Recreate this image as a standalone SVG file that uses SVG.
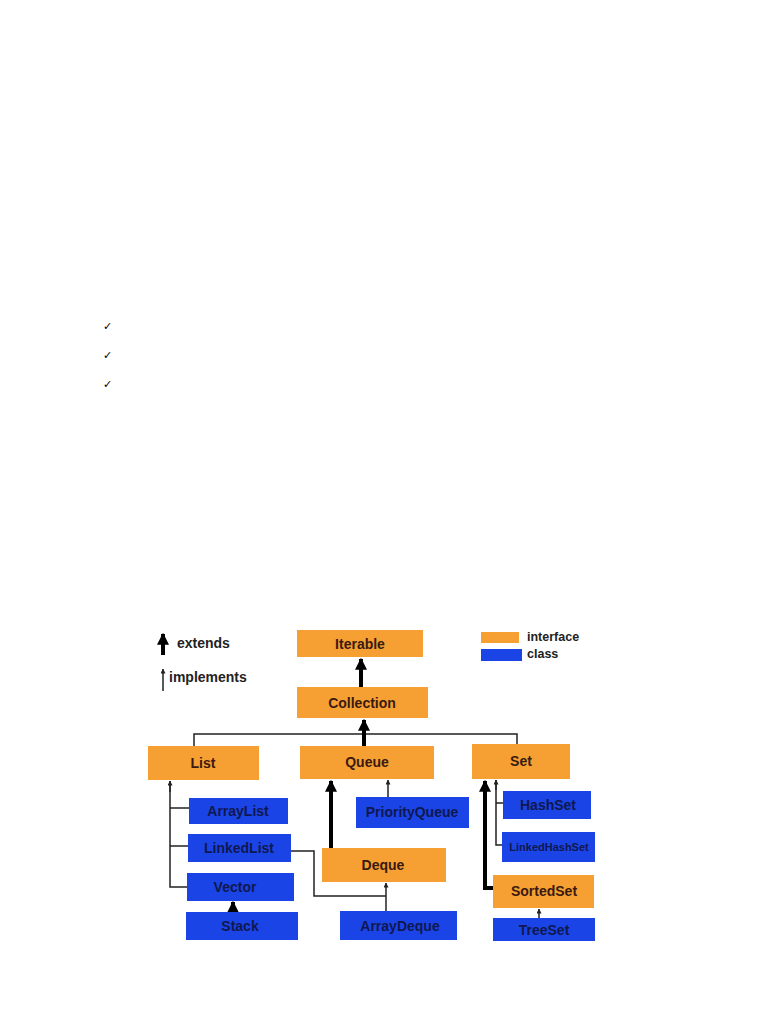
<svg xmlns="http://www.w3.org/2000/svg" width="768" height="1024" viewBox="0 0 768 1024">
<style>
.i{fill:#f6a033}
.c{fill:#1a44e6}
.ti{font-family:"Liberation Sans",Arial,sans-serif;font-weight:bold;font-size:14px;fill:#3a1a10;text-anchor:middle}
.tc{font-family:"Liberation Sans",Arial,sans-serif;font-weight:bold;font-size:14px;fill:#101850;text-anchor:middle}
.lg{font-family:"Liberation Sans",Arial,sans-serif;font-weight:bold;font-size:14px;fill:#222}
.thin{fill:none;stroke:#222;stroke-width:1.5}
.thick{fill:none;stroke:#000;stroke-width:4}
.chk{font-family:"DejaVu Sans",sans-serif;font-size:11px;fill:#000}
</style>
<defs>
<marker id="ah" viewBox="0 0 10 10" refX="9" refY="5" markerWidth="3" markerHeight="3" orient="auto"><path d="M0,0 L10,5 L0,10 z" fill="#000"/></marker>
<marker id="at" viewBox="0 0 10 10" refX="9" refY="5" markerWidth="5" markerHeight="5" markerUnits="userSpaceOnUse" orient="auto"><path d="M0,0 L10,5 L0,10 z" fill="#222"/></marker>
</defs>
<rect width="768" height="1024" fill="#fff"/>
<text class="chk" x="103" y="330">✓</text>
<text class="chk" x="103" y="359">✓</text>
<text class="chk" x="103" y="388">✓</text>

<g id="legend">
<line class="thick" x1="163" y1="655" x2="163" y2="634" marker-end="url(#ah)"/>
<text class="lg" x="177" y="648">extends</text>
<line class="thin" x1="163" y1="691" x2="163" y2="669" marker-end="url(#at)"/>
<text class="lg" x="169" y="682">implements</text>
<rect class="i" x="481" y="632" width="38" height="11"/>
<text class="lg" x="527" y="641" style="font-size:12.5px">interface</text>
<rect class="c" x="481" y="649" width="41" height="12"/>
<text class="lg" x="527" y="658" style="font-size:12.5px">class</text>
</g>

<g id="connectors">
<line class="thick" x1="361" y1="687" x2="361" y2="659" marker-end="url(#ah)"/>
<polyline class="thin" points="194,746 194,734 517,734 517,745"/>
<line class="thick" x1="364" y1="746" x2="364" y2="720" marker-end="url(#ah)"/>
<polyline class="thin" points="170,781 170,887 187,887"/>
<line class="thin" x1="170" y1="808" x2="189" y2="808"/>
<line class="thin" x1="170" y1="846" x2="188" y2="846"/>
<line class="thin" x1="170" y1="792" x2="170" y2="781" marker-end="url(#at)"/>
<line class="thick" x1="233" y1="912" x2="233" y2="902" marker-end="url(#ah)"/>
<line class="thin" x1="388" y1="797" x2="388" y2="780" marker-end="url(#at)"/>
<line class="thick" x1="331" y1="848" x2="331" y2="781" marker-end="url(#ah)"/>
<line class="thin" x1="386" y1="911" x2="386" y2="883" marker-end="url(#at)"/>
<polyline class="thin" points="291,851 314,851 314,896 386,896"/>
<polyline class="thin" points="496,780 496,845 502,845"/>
<line class="thin" x1="496" y1="790" x2="496" y2="780" marker-end="url(#at)"/>
<line class="thin" x1="496" y1="803" x2="503" y2="803"/>
<polyline class="thick" points="493,888 485,888 485,781" marker-end="url(#ah)"/>
<line class="thin" x1="539" y1="918" x2="539" y2="909" marker-end="url(#at)"/>
</g>

<g id="Iterable"><rect class="i" x="297" y="630" width="126" height="27"/><text class="ti" x="360" y="649">Iterable</text></g>
<g id="Collection"><rect class="i" x="297" y="687" width="131" height="31"/><text class="ti" x="362" y="708">Collection</text></g>
<g id="List"><rect class="i" x="148" y="746" width="111" height="34"/><text class="ti" x="203" y="768">List</text></g>
<g id="Queue"><rect class="i" x="300" y="746" width="134" height="33"/><text class="ti" x="367" y="767">Queue</text></g>
<g id="Set"><rect class="i" x="472" y="744" width="98" height="35"/><text class="ti" x="521" y="766">Set</text></g>
<g id="ArrayList"><rect class="c" x="189" y="798" width="99" height="26"/><text class="tc" x="238" y="816">ArrayList</text></g>
<g id="LinkedList"><rect class="c" x="188" y="834" width="103" height="28"/><text class="tc" x="239" y="853">LinkedList</text></g>
<g id="Vector"><rect class="c" x="187" y="873" width="107" height="28"/><text class="tc" x="235" y="892">Vector</text></g>
<g id="Stack"><rect class="c" x="186" y="912" width="112" height="28"/><text class="tc" x="240" y="931">Stack</text></g>
<g id="PriorityQueue"><rect class="c" x="356" y="797" width="113" height="31"/><text class="tc" x="412" y="817">PriorityQueue</text></g>
<g id="Deque"><rect class="i" x="322" y="848" width="124" height="34"/><text class="ti" x="383" y="870">Deque</text></g>
<g id="ArrayDeque"><rect class="c" x="340" y="911" width="117" height="29"/><text class="tc" x="400" y="931">ArrayDeque</text></g>
<g id="HashSet"><rect class="c" x="503" y="791" width="88" height="28"/><text class="tc" x="548" y="810">HashSet</text></g>
<g id="LinkedHashSet"><rect class="c" x="502" y="832" width="93" height="30"/><text class="tc" x="549" y="851" style="font-size:11px">LinkedHashSet</text></g>
<g id="SortedSet"><rect class="i" x="493" y="875" width="101" height="33"/><text class="ti" x="544" y="896">SortedSet</text></g>
<g id="TreeSet"><rect class="c" x="493" y="918" width="102" height="23"/><text class="tc" x="544" y="935">TreeSet</text></g>
</svg>
